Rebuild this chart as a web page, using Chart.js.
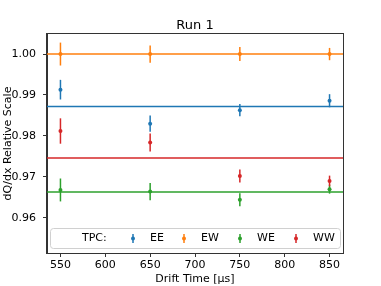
<!DOCTYPE html>
<html lang="en">
<head>
<meta charset="UTF-8">
<script src="https://cdn.jsdelivr.net/npm/chart.js@4.4.0/dist/chart.umd.min.js"></script>
<title>Run 1</title>
<style>
  html, body { margin: 0; padding: 0; background: #fff; }
  #wrap { width: 381px; height: 286px; }
</style>
</head>
<body>
<div id="wrap"><canvas id="myChart" width="381" height="286"></canvas></div>
<script>
// drift time bins and tick labels
const driftTimes = [550, 650, 750, 850];
const xTicks = [550, 600, 650, 700, 750, 800, 850];
const yTicks = [0.96, 0.97, 0.98, 0.99, 1.00];

// relative dQ/dx scale per TPC, with errors
const tpcNames = ['EE', 'EW', 'WE', 'WW'];
const eeVals = [0.9913, 0.9830, 0.9863, 0.9886];
const eeErrs = [0.0024, 0.0020, 0.0015, 0.0016];
const ewVals = [1.0000, 1.0000, 1.0000, 1.0000];
const ewErrs = [0.0028, 0.0021, 0.0017, 0.0015];
const weVals = [0.9668, 0.9664, 0.9644, 0.9670];
const weErrs = [0.0028, 0.0021, 0.0016, 0.0011];
const wwVals = [0.9812, 0.9784, 0.9702, 0.9690];
const wwErrs = [0.0031, 0.0022, 0.0016, 0.0013];
// fitted flat level per TPC
const fitLevels = [0.9872, 1.0000, 0.9663, 0.9746];

const colors = ['#1f77b4', '#ff7f0e', '#2ca02c', '#d62728'];
const allVals = [eeVals, ewVals, weVals, wwVals];
const allErrs = [eeErrs, ewErrs, weErrs, wwErrs];
const xMin = 535, xMax = 865;

var datasets = [];
tpcNames.forEach(function(name, i) {
  datasets.push({
    label: name + ' fit',
    type: 'line',
    data: [{x: xMin, y: fitLevels[i]}, {x: xMax, y: fitLevels[i]}],
    borderColor: colors[i],
    borderWidth: 1.5,
    pointRadius: 0,
    order: 2
  });
});
tpcNames.forEach(function(name, i) {
  datasets.push({
    label: name,
    type: 'scatter',
    data: driftTimes.map(function(t, j) { return {x: t, y: allVals[i][j], err: allErrs[i][j]}; }),
    backgroundColor: colors[i],
    borderColor: colors[i],
    pointRadius: 2,
    pointBorderWidth: 0,
    order: 1
  });
});

// error bars, frame, title and legend
const extras = {
  id: 'extras',
  beforeDatasetsDraw: function(chart) {
    var ctx = chart.ctx, xs = chart.scales.x, ys = chart.scales.y;
    ctx.save();
    ctx.lineWidth = 1.5;
    chart.data.datasets.forEach(function(ds) {
      if (ds.type !== 'scatter') return;
      ctx.strokeStyle = ds.borderColor;
      ds.data.forEach(function(p) {
        var px = xs.getPixelForValue(p.x);
        ctx.beginPath();
        ctx.moveTo(px, ys.getPixelForValue(p.y - p.err));
        ctx.lineTo(px, ys.getPixelForValue(p.y + p.err));
        ctx.stroke();
      });
    });
    ctx.restore();
  },
  afterDraw: function(chart) {
    var ctx = chart.ctx, a = chart.chartArea;
    ctx.save();
    ctx.strokeStyle = '#333';
    ctx.lineWidth = 1;
    ctx.strokeRect(Math.round(a.left) - 0.5, Math.round(a.top) - 0.5, Math.round(a.right - a.left) + 1, Math.round(a.bottom - a.top) + 1);

    ctx.fillStyle = '#000';
    ctx.font = '13px "DejaVu Sans"';
    ctx.textAlign = 'center';
    ctx.textBaseline = 'middle';
    ctx.fillText('Run 1', (a.left + a.right) / 2, 26);

    // legend box
    var lx = 50, ly = 228, lw = 290, lh = 20;
    ctx.beginPath();
    ctx.roundRect(lx + 0.5, ly + 0.5, lw, lh, 3);
    ctx.fillStyle = 'rgba(255,255,255,0.8)';
    ctx.fill();
    ctx.strokeStyle = '#d0d0d0';
    ctx.stroke();
    ctx.font = '11px "DejaVu Sans"';
    ctx.textAlign = 'left';
    ctx.fillStyle = '#000';
    var cy = ly + lh / 2 + 0.5;
    ctx.fillText('TPC:', 82, cy);
    var handleX = [133, 184, 240, 296];
    tpcNames.forEach(function(name, i) {
      ctx.strokeStyle = colors[i];
      ctx.fillStyle = colors[i];
      ctx.lineWidth = 1.5;
      ctx.beginPath();
      ctx.moveTo(handleX[i], cy - 4.5);
      ctx.lineTo(handleX[i], cy + 4.5);
      ctx.stroke();
      ctx.beginPath();
      ctx.arc(handleX[i], cy, 2, 0, Math.PI * 2);
      ctx.fill();
      ctx.fillStyle = '#000';
      ctx.fillText(name, handleX[i] + 17, cy);
    });
    ctx.restore();
  }
};

var ctx = document.getElementById('myChart').getContext('2d');
var chart = new Chart(ctx, {
  type: 'scatter',
  data: { datasets: datasets },
  options: {
    responsive: false,
    animation: false,
    layout: { padding: { top: 34, right: 38, left: 0, bottom: 0 } },
    plugins: { legend: { display: false }, title: { display: false }, tooltip: { enabled: false } },
    scales: {
      x: {
        type: 'linear',
        min: xMin,
        max: xMax,
        afterBuildTicks: function(scale) { scale.ticks = xTicks.map(function(v) { return {value: v}; }); },
        afterFit: function(scale) { scale.height = 33; },
        grid: { drawOnChartArea: false, drawTicks: true, tickLength: 4, color: '#333' },
        border: { display: true, color: '#333' },
        ticks: { color: '#000', padding: 2, font: { family: 'DejaVu Sans', size: 11 }, maxRotation: 0 },
        title: { display: true, text: 'Drift Time [\u03bcs]', color: '#000', padding: { top: 0, bottom: 0 }, font: { family: 'DejaVu Sans', size: 11 } }
      },
      y: {
        type: 'linear',
        min: 0.9514,
        max: 1.0049,
        afterBuildTicks: function(scale) { scale.ticks = yTicks.map(function(v) { return {value: v}; }); },
        afterFit: function(scale) { scale.width = 47; },
        grid: { drawOnChartArea: false, drawTicks: true, tickLength: 4, color: '#333' },
        border: { display: true, color: '#333' },
        ticks: { color: '#000', padding: 7, font: { family: 'DejaVu Sans', size: 11 }, callback: function(v) { return v.toFixed(2); } },
        title: { display: true, text: 'dQ/dx Relative Scale', color: '#000', padding: { top: 2, bottom: 0 }, font: { family: 'DejaVu Sans', size: 11 } }
      }
    }
  },
  plugins: [extras]
});
</script>
</body>
</html>
